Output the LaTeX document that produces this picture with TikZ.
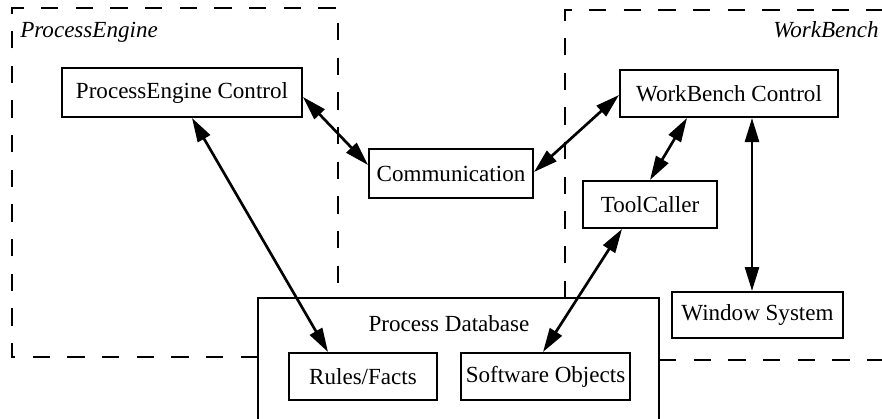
\documentclass[tikz,border=0pt]{standalone}
\usepackage{fontspec}
\setmainfont{Liberation Serif}
\usetikzlibrary{arrows.meta,calc}

\begin{document}
\begin{tikzpicture}[x=0.75pt,y=-0.75pt,
  box/.style={draw,line width=1.5pt,inner sep=0pt,
    font=\fontsize{17.3}{20}\selectfont},
  link/.style={line width=2pt,
    {Triangle[length=18pt,width=10.5pt]}-{Triangle[length=18pt,width=10.5pt]}},
  frame/.style={line width=1.6pt,dash pattern=on 13pt off 13pt},
  title/.style={font=\fontsize{17.3}{20}\selectfont\itshape,inner sep=0pt}]
\useasboundingbox (0,0) rectangle (882,418);
\clip (0,0) rectangle (882,418);

% subsystem frames
\draw[frame] (258,357) -- (12,357) -- (12,8) -- (338,8) -- (338,298);
\draw[frame] (659,360) -- (900,360);
\draw[frame] (565,298) -- (565,10) -- (900,10);
\node[title,anchor=base west] (petitle) at (20,37) {ProcessEngine};
\node[title,anchor=base east] (wbtitle) at (879,37) {WorkBench};

% shared database
\draw[line width=1.5pt] (258,440) -- (258,298) -- (659,298) -- (659,440);
\node[font=\fontsize{17.3}{20}\selectfont,inner sep=0pt] (pdb) at (449,324) {Process Database};

% components
\node[box,minimum width=180pt,minimum height=36.75pt] (pec) at (182,92.5) {ProcessEngine Control};
\node[box,minimum width=163.5pt,minimum height=35.25pt] (wbc) at (729,93.5) {WorkBench Control};
\node[box,minimum width=123pt,minimum height=36.75pt] (comm) at (451,173.5) {Communication};
\node[box,minimum width=100.5pt,minimum height=35.25pt] (tc) at (650,204.5) {ToolCaller};
\node[box,minimum width=128.25pt,minimum height=34.5pt] (ws) at (757.5,315) {Window System};
\node[box,minimum width=111pt,minimum height=35.25pt] (rf) at (363,376.5) {Rules/Facts};
\node[box,minimum width=126.75pt,minimum height=35.25pt] (so) at (545.5,376.5) {Software Objects};

% connections
\coordinate (wbdown) at ($(wbc.south)+(23,0)$);
\draw[link] ($(pec.east)+(0,4.5)$) -- ($(comm.west)+(0,-8.5)$);
\draw[link] ($(wbc.west)+(0,1.5)$) -- ($(comm.east)+(0,-1.5)$);
\draw[link] ($(pec.south)+(10,0)$) -- ($(rf.north)+(-35,0)$);
\draw[link] ($(wbc.south)+(-42,0)$) -- (tc.north);
\draw[link] (wbdown) -- (wbdown |- ws.north);
\draw[link] ($(tc.south)+(-28,0)$) -- ($(so.north)+(-2.5,0)$);
\end{tikzpicture}
\end{document}
